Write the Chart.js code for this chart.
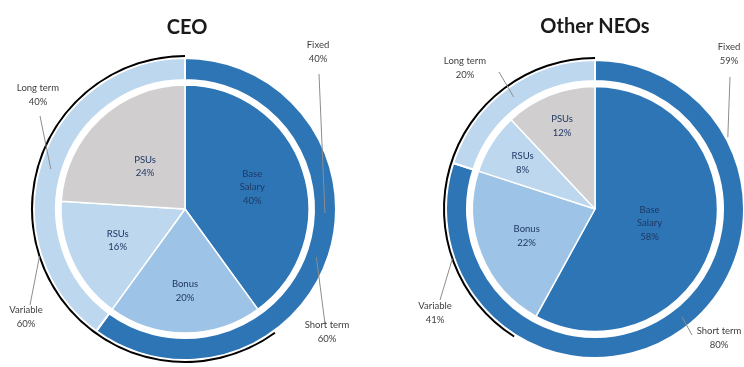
<!DOCTYPE html>
<html>
<head>
<meta charset="utf-8">
<script src="https://cdn.jsdelivr.net/npm/chart.js@4.4.0/dist/chart.umd.min.js"></script>
<style>
  html, body { margin: 0; padding: 0; background: #fff; }
  #wrap { position: relative; width: 744px; height: 367px; }
  .box { position: absolute; top: 0; width: 372px; height: 367px; }
</style>
</head>
<body>
<div id="wrap">
  <div class="box" style="left:0"><canvas id="ceoChart"></canvas></div>
  <div class="box" style="left:372px"><canvas id="neoChart"></canvas></div>
</div>
<script>
// Pay mix (percent of total pay)
const payCategories = ['Base Salary', 'Bonus', 'RSUs', 'PSUs'];
const ceoPay = [40, 20, 16, 24];
const neoPay = [58, 22, 8, 12];

// Outer ring: short vs long term
const termCategories = ['Short term', 'Long term'];
const ceoTerm = [60, 40];
const neoTerm = [80, 20];

// Black arc: fixed vs variable
const splitCategories = ['Fixed', 'Variable'];
const ceoSplit = [40, 60];
const neoSplit = [59, 41];

const payColors = ['#2e75b6', '#9dc3e6', '#bdd7ee', '#d0cece'];
const termColors = ['#2e75b6', '#bdd7ee'];
const splitColors = ['rgba(0,0,0,0)', '#000000'];

// dataset order (outer -> inner): 0 split, 1 spacer, 2 term, 3 spacer, 4 pay
const DS_SPLIT = 0, DS_TERM = 2, DS_PAY = 4;

function drawLines(ctx, lines, x, y, lh) {
    const top = y - (lines.length - 1) * lh / 2;
    lines.forEach((t, i) => ctx.fillText(t, x, top + i * lh));
}

// point inside an arc: t = fraction along the angle, rf = fraction across the ring
function arcPoint(chart, ds, idx, t, rf) {
    const arc = chart.getDatasetMeta(ds).data[idx];
    const p = arc.getProps(['x', 'y', 'startAngle', 'endAngle', 'innerRadius', 'outerRadius'], true);
    const a = p.startAngle + t * (p.endAngle - p.startAngle);
    const r = p.innerRadius + rf * (p.outerRadius - p.innerRadius);
    return { x: p.x + Math.cos(a) * r, y: p.y + Math.sin(a) * r };
}

function makeLabelPlugin(cfg) {
    return {
        id: 'pieLabels',
        afterDatasetsDraw(chart) {
            const ctx = chart.ctx;
            ctx.save();

            // title
            ctx.font = 'bold 20px Lato';
            ctx.fillStyle = '#1a1a1a';
            ctx.textAlign = 'center';
            ctx.textBaseline = 'alphabetic';
            ctx.fillText(cfg.title, cfg.titleX, cfg.titleY);

            // labels inside the pie
            ctx.font = '9.5px Lato';
            ctx.fillStyle = '#1f3864';
            ctx.textBaseline = 'middle';
            const pie = chart.getDatasetMeta(DS_PAY);
            pie.data.forEach((arc, i) => {
                const p = arc.getProps(['x', 'y', 'startAngle', 'endAngle', 'outerRadius'], true);
                const mid = (p.startAngle + p.endAngle) / 2;
                const r = p.outerRadius * cfg.innerPos[i];
                const lines = payCategories[i].split(' ').concat([cfg.pay[i] + '%']);
                drawLines(ctx, lines, p.x + Math.cos(mid) * r, p.y + Math.sin(mid) * r, 13.5);
            });

            // outer labels with leader lines
            cfg.outer.forEach(o => {
                const names = o.ds === DS_SPLIT ? splitCategories : termCategories;
                const vals = o.ds === DS_SPLIT ? cfg.split : cfg.term;
                const a = o.anchor || { ds: o.ds, idx: o.idx, t: 0.5, rf: 0.5 };
                const end = arcPoint(chart, a.ds, a.idx, a.t, a.rf);
                ctx.strokeStyle = '#8c8c8c';
                ctx.lineWidth = 1;
                ctx.beginPath();
                ctx.moveTo(o.from[0], o.from[1]);
                ctx.lineTo(end.x, end.y);
                ctx.stroke();
                ctx.fillStyle = '#404040';
                drawLines(ctx, [names[o.idx], vals[o.idx] + '%'], o.x, o.y, 14);
            });
            ctx.restore();
        }
    };
}

function makeChart(id, cfg) {
    const spacer = w => ({ data: [1], backgroundColor: 'rgba(0,0,0,0)', borderWidth: 0, weight: w });
    return new Chart(document.getElementById(id), {
        type: 'doughnut',
        data: {
            labels: payCategories,
            datasets: [
                { data: cfg.split, backgroundColor: splitColors, borderWidth: 0, weight: cfg.w[0] },
                spacer(cfg.w[1]),
                { data: cfg.term, backgroundColor: termColors, borderColor: '#fff', borderWidth: 2, weight: cfg.w[2] },
                spacer(cfg.w[3]),
                { data: cfg.pay, backgroundColor: payColors, borderColor: '#fff', borderWidth: 1.5, weight: cfg.w[4] }
            ]
        },
        options: {
            responsive: true,
            maintainAspectRatio: false,
            animation: false,
            events: [],
            cutout: 0,
            radius: cfg.radius,
            layout: { padding: cfg.padding },
            plugins: { legend: { display: false }, tooltip: { enabled: false } }
        },
        plugins: [makeLabelPlugin(cfg)]
    });
}

makeChart('ceoChart', {
    title: 'CEO', titleX: 187, titleY: 34,
    pay: ceoPay, term: ceoTerm, split: ceoSplit,
    radius: 154, w: [2, 1, 22, 5, 124],
    padding: { left: 0, right: 2, top: 51, bottom: 0 },
    innerPos: [0.57, 0.66, 0.6, 0.47],
    outer: [
        { ds: DS_SPLIT, idx: 0, x: 318, y: 52, from: [319, 74], anchor: { ds: DS_TERM, idx: 0, t: 0.424, rf: 0.5 } },
        { ds: DS_TERM, idx: 0, x: 327, y: 332, from: [325, 324], anchor: { ds: DS_TERM, idx: 0, t: 0.51, rf: 0.5 } },
        { ds: DS_TERM, idx: 1, x: 38, y: 95, from: [40, 116], anchor: { ds: DS_TERM, idx: 1, t: 0.49, rf: 0.5 } },
        { ds: DS_SPLIT, idx: 1, x: 26, y: 317, from: [30, 305] }
    ]
});

makeChart('neoChart', {
    title: 'Other NEOs', titleX: 223, titleY: 33,
    pay: neoPay, term: neoTerm, split: neoSplit,
    radius: 152, w: [2, 1, 21, 5.5, 122.5],
    padding: { left: 74, right: 0, top: 51, bottom: 0 },
    innerPos: [0.46, 0.6, 0.7, 0.73],
    outer: [
        { ds: DS_TERM, idx: 1, x: 93, y: 68, from: [127, 72] },
        { ds: DS_SPLIT, idx: 0, x: 357, y: 54, from: [358, 77], anchor: { ds: DS_SPLIT, idx: 0, t: 0.29, rf: 0.5 } },
        { ds: DS_SPLIT, idx: 1, x: 63, y: 313, from: [68, 300], anchor: { ds: DS_SPLIT, idx: 1, t: 0.26, rf: 0.5 } },
        { ds: DS_TERM, idx: 0, x: 347, y: 338, from: [320, 335], anchor: { ds: DS_TERM, idx: 0, t: 0.49, rf: 0.5 } }
    ]
});
</script>
</body>
</html>
